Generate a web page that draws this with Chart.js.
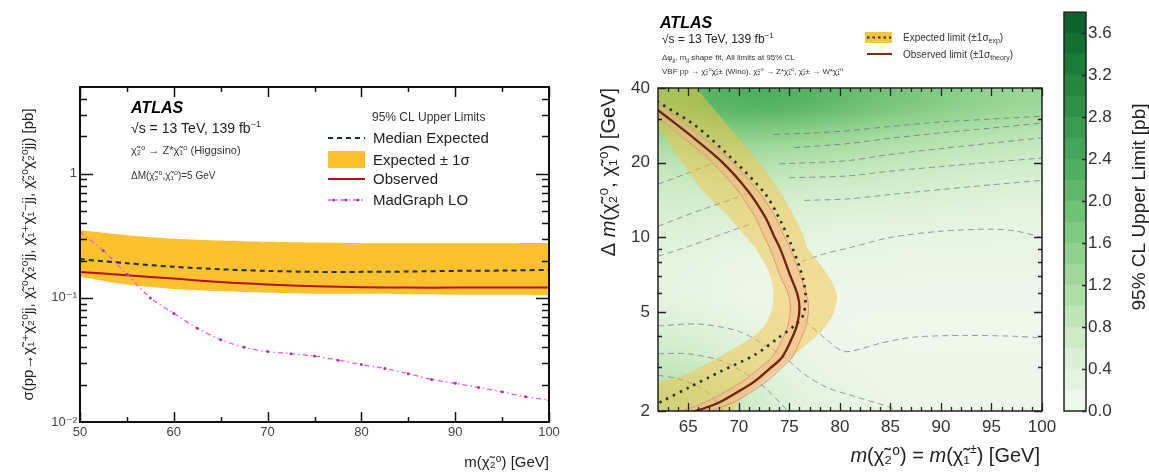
<!DOCTYPE html>
<html>
<head>
<meta charset="utf-8">
<title>VBF compressed electroweakino limits</title>
<script src="https://cdn.jsdelivr.net/npm/chart.js@4.4.1/dist/chart.umd.min.js"></script>
<style>
  html, body { margin: 0; padding: 0; background: #fff; }
  #wrap { position: relative; width: 1149px; height: 475px; overflow: hidden; background: #fff; }
  #wrap canvas { position: absolute; left: 0; top: 0; }
</style>
</head>
<body>
<div id="wrap">
  <canvas id="cbar" width="1149" height="475"></canvas>
  <canvas id="right" width="1149" height="475"></canvas>
  <canvas id="left" width="1149" height="475"></canvas>
</div>
<script>
const FONT = '"Liberation Sans", "DejaVu Sans", Arial, sans-serif';

// ---------- Left panel: Higgsino cross-section limit vs m(chi2) ----------
const leftMass       = [50, 55, 60, 65, 70, 75, 80, 85, 90, 95, 100];
const leftExpLow     = [0.148, 0.128, 0.118, 0.113, 0.110, 0.108, 0.108, 0.107, 0.106, 0.106, 0.105];
const leftExpHigh    = [0.350, 0.320, 0.300, 0.290, 0.283, 0.279, 0.276, 0.275, 0.275, 0.276, 0.277];
const leftExpMedian  = [0.205, 0.190, 0.178, 0.170, 0.165, 0.162, 0.162, 0.163, 0.165, 0.166, 0.168];
const leftObserved   = [0.162, 0.152, 0.143, 0.134, 0.128, 0.124, 0.122, 0.121, 0.121, 0.121, 0.121];
const madgraphMass   = [50, 52.5, 55, 57.5, 60, 62.5, 65, 67.5, 70, 72.5, 75, 77.5, 80, 82.5, 85, 87.5, 90, 92.5, 95, 97.5, 100];
const madgraphXsec   = [0.34, 0.24, 0.155, 0.10, 0.075, 0.057, 0.046, 0.040, 0.037, 0.0355, 0.034, 0.0315, 0.029, 0.027, 0.0245, 0.022, 0.0205, 0.019, 0.0175, 0.016, 0.015];
const leftXTicks      = [50, 60, 70, 80, 90, 100];
const leftYTicks      = [0.01, 0.1, 1];
const leftYTickLabels = ['10⁻²', '10⁻¹', '1'];

// ---------- Right panel: upper limit map in (m, Δm) ----------
const heatMass = [63.9, 67.7, 71.5, 75.3, 79.1, 82.9, 86.7, 90.5, 94.3, 98.1];
const heatDm   = [34.4, 25.5, 18.9, 14.0, 10.4, 7.70, 5.71, 4.23, 3.13, 2.32];
const heatLimit = [
  [2.00, 2.20, 2.30, 2.25, 2.10, 1.90, 1.75, 1.60, 1.45, 1.35],
  [1.30, 1.50, 1.50, 1.45, 1.35, 1.25, 1.15, 1.05, 0.98, 0.92],
  [0.85, 0.95, 0.95, 0.90, 0.85, 0.80, 0.74, 0.68, 0.63, 0.60],
  [0.60, 0.60, 0.58, 0.55, 0.52, 0.50, 0.47, 0.44, 0.41, 0.39],
  [0.45, 0.38, 0.33, 0.33, 0.32, 0.30, 0.29, 0.27, 0.26, 0.25],
  [0.32, 0.24, 0.19, 0.20, 0.20, 0.20, 0.19, 0.18, 0.18, 0.18],
  [0.30, 0.22, 0.15, 0.14, 0.13, 0.13, 0.13, 0.13, 0.13, 0.13],
  [0.50, 0.40, 0.28, 0.18, 0.14, 0.12, 0.12, 0.12, 0.12, 0.12],
  [0.75, 0.60, 0.45, 0.28, 0.19, 0.15, 0.14, 0.14, 0.14, 0.14],
  [1.05, 0.85, 0.62, 0.40, 0.28, 0.21, 0.17, 0.16, 0.16, 0.16]
];
// [mass, Δm] pairs
const expectedLimit = [[61.3,37.0],[62.0,35.2],[65.7,28.2],[69.3,20.8],[72.6,15.0],[74.2,11.5],[75.3,9.1],[76.0,7.6],[76.4,6.7],[76.6,5.8],[76.4,4.9],[75.6,4.45],[73.9,3.94],[71.6,3.37],[68.3,2.90],[65.0,2.48],[62.4,2.19],[61.5,2.10]];
const observedLimit = [[61.5,33.8],[62.2,32.1],[65.0,26.2],[68.3,20.2],[70.9,15.4],[72.6,12.1],[73.5,10.1],[74.1,9.0],[75.1,7.0],[75.8,5.9],[76.0,5.2],[75.8,4.5],[75.4,4.05],[74.3,3.3],[73.0,2.95],[71.6,2.64],[70.0,2.4],[68.3,2.19],[67.0,2.08],[65.7,2.0],[65.0,1.96]];
const observedTheoryHigh = [[62.5,33.8],[63.2,32.1],[66.0,26.2],[69.3,20.2],[71.9,15.4],[73.6,12.1],[74.5,10.1],[75.1,9.0],[76.1,7.0],[76.7,5.9],[76.9,5.2],[76.7,4.5],[76.3,4.05],[75.3,3.3],[74.1,2.95],[72.8,2.64],[71.3,2.4],[69.7,2.19],[68.4,2.08],[67.2,2.0],[66.5,1.96]];
const observedTheoryLow  = [[60.5,33.8],[61.2,32.1],[64.0,26.2],[67.3,20.2],[69.9,15.4],[71.6,12.1],[72.5,10.1],[73.1,9.0],[74.1,7.0],[74.9,5.9],[75.1,5.2],[74.9,4.5],[74.5,4.05],[73.3,3.3],[71.9,2.95],[70.4,2.64],[68.7,2.4],[66.9,2.19],[65.6,2.08],[64.2,2.0],[63.5,1.96]];
const expBandOuter = [[65.8,40],[66.0,39],[67.8,32],[69.6,26.2],[71.8,20.5],[73.6,16.4],[75.2,12.8],[76.3,10.4],[76.8,9.1],[78.8,7.07],[79.7,5.87],[79.3,4.88],[78.2,4.2],[76.3,3.59],[74.3,3.06],[72.3,2.64],[70.3,2.25],[69.3,2.0]];
const expBandInner = [[62,2.0],[62,2.55],[64.7,2.79],[67.3,3.18],[69.6,3.59],[71.6,4.05],[72.6,4.45],[73.3,5.2],[73.4,6.27],[72.8,7.55],[71.6,9.1],[70.5,10.3],[68.7,12.5],[66.7,15],[64.4,20],[62,28.7],[62,40]];
const limitContours = [
  [[73.5,26.0],[77,26.3],[80.8,26.9],[85,28.0],[90,29.2],[95,30.0],[100,30.8]],
  [[75.5,23.0],[80.8,23.9],[85,25.1],[90,26.4],[95,27.6],[100,28.9]],
  [[74.0,19.8],[77,20.0],[80.8,20.4],[85,21.6],[90,22.8],[95,24.0],[100,25.2]],
  [[75.0,17.4],[80.8,17.7],[85,18.5],[90,19.3],[95,20.1],[100,20.9]],
  [[76.5,14.1],[80.8,14.3],[85,14.9],[90,15.6],[95,16.3],[100,17.0]],
  [[76.2,8.0],[78.5,8.6],[81,9.1],[85,10.0],[90,10.6],[95,10.8],[97.5,10.6],[100,10.0]],
  [[76.0,5.0],[76.6,4.6],[78.5,3.94],[80.3,3.48],[82,3.55],[84.1,3.76],[87.4,3.97],[92.4,4.03],[97.3,4.0],[100,3.94]],
  [[62,4.40],[66,4.48],[69.9,4.2],[72.6,3.69],[74.6,3.27],[76.6,2.79],[78.8,2.48],[81,2.32],[84.8,2.08],[85.8,2.0]],
  [[62,3.40],[65,3.40],[68.3,3.18],[70.9,2.79],[72.6,2.48],[74.3,2.11],[74.9,2.0]],
  [[62,2.79],[64.4,2.67],[66.7,2.41],[68.3,2.06],[68.7,2.0]],
  [[62,11.1],[66,12.8],[70.9,15.0]],
  [[62,8.4],[65,9.2],[68,10.2],[71.3,11.4]],
  [[62,16.4],[65,18.2],[67.5,20.0]]
];
const rightXTicks = [65, 70, 75, 80, 85, 90, 95, 100];
const rightYTicks = [2, 5, 10, 20, 40];
const colourbarTicks  = [0, 0.4, 0.8, 1.2, 1.6, 2.0, 2.4, 2.8, 3.2, 3.6];
const colourbarLevels = [0, 0.2, 0.4, 0.6, 0.8, 1.0, 1.2, 1.4, 1.6, 1.8, 2.0, 2.2, 2.4, 2.6, 2.8, 3.0, 3.2, 3.4, 3.6];

// ---------- colour map ----------
const limitPalette = [
  [0.0, '#f4faf2'], [0.4, '#e0f2db'], [0.8, '#c6e8bf'], [1.2, '#a7dca1'],
  [1.6, '#87cd86'], [2.0, '#67bd6e'], [2.4, '#4aab5c'], [2.8, '#33974b'],
  [3.2, '#1f803b'], [3.6, '#0f6a2f'], [3.8, '#0a5d29']
];
function hexRgb(h) { return [1, 3, 5].map(i => parseInt(h.slice(i, i + 2), 16)); }
function limitColour(v) {
  const p = limitPalette;
  if (v <= p[0][0]) return hexRgb(p[0][1]);
  for (let i = 1; i < p.length; i++) {
    if (v <= p[i][0]) {
      const t = (v - p[i - 1][0]) / (p[i][0] - p[i - 1][0]);
      const a = hexRgb(p[i - 1][1]), b = hexRgb(p[i][1]);
      return a.map((c, k) => Math.round(c + (b[k] - c) * t));
    }
  }
  return hexRgb(p[p.length - 1][1]);
}
const rgbStr = c => `rgb(${c[0]},${c[1]},${c[2]})`;

// ---------- helpers ----------
const xy = (xs, ys) => xs.map((x, i) => ({x, y: ys[i]}));
const pts = arr => arr.map(([x, y]) => ({x, y}));

function fontStr(r, base) {
  return `${r.style || 'normal'} ${r.weight || 'normal'} ${r.size || base}px ${FONT}`;
}
function richText(ctx, runs, x, y, opt = {}) {
  const size = opt.size || 12;
  runs = runs.map(r => typeof r === 'string' ? {t: r} : r);
  ctx.save();
  ctx.translate(x, y);
  if (opt.rotate) ctx.rotate(opt.rotate);
  ctx.textBaseline = 'alphabetic';
  ctx.textAlign = 'left';
  let w = 0;
  runs.forEach(r => { ctx.font = fontStr(r, size); w += ctx.measureText(r.t).width; });
  let cx = opt.align === 'right' ? -w : opt.align === 'center' ? -w / 2 : 0;
  runs.forEach(r => {
    ctx.font = fontStr(r, size);
    ctx.fillStyle = r.color || opt.color || '#111';
    ctx.fillText(r.t, cx, r.dy || 0);
    cx += ctx.measureText(r.t).width;
  });
  ctx.restore();
}

// Frame plus inward-pointing ticks on all four sides
function insideTicks(o) {
  return {
    id: 'insideTicks',
    afterDatasetsDraw(chart) {
      const {ctx, chartArea: a, scales: {x, y}} = chart;
      ctx.save();
      ctx.strokeStyle = o.color;
      ctx.lineWidth = o.width;
      ctx.beginPath();
      const vert = (vals, len) => vals.forEach(v => {
        const px = Math.round(x.getPixelForValue(v)) + 0.5;
        ctx.moveTo(px, a.bottom); ctx.lineTo(px, a.bottom - len);
        ctx.moveTo(px, a.top); ctx.lineTo(px, a.top + len);
      });
      const horiz = (vals, len) => vals.forEach(v => {
        const py = Math.round(y.getPixelForValue(v)) + 0.5;
        ctx.moveTo(a.left, py); ctx.lineTo(a.left + len, py);
        ctx.moveTo(a.right, py); ctx.lineTo(a.right - len, py);
      });
      vert(o.xMajor, o.xMajorLen); vert(o.xMinor, o.xMinorLen);
      horiz(o.yMajor, o.yMajorLen); horiz(o.yMinor, o.yMinorLen);
      ctx.stroke();
      ctx.lineWidth = o.frameWidth;
      ctx.strokeRect(a.left, a.top, a.right - a.left, a.bottom - a.top);
      ctx.restore();
    }
  };
}

Chart.defaults.font.family = FONT;
Chart.defaults.color = '#333';

// ================= Left chart =================
const leftXMinor = [55, 65, 75, 85, 95];
const leftYMinor = [];
[0.01, 0.1, 1].forEach(d => { for (let k = 2; k <= 9; k++) if (k * d < 5) leftYMinor.push(k * d); });

const leftAnnotations = {
  id: 'leftAnnotations',
  afterDraw(chart) {
    const ctx = chart.ctx;
    richText(ctx, [{t: 'ATLAS', weight: 'bold', style: 'italic'}], 131, 113, {size: 16, color: '#000'});
    richText(ctx, ['√s = 13 TeV, 139 fb', {t: '−1', size: 9, dy: -6}], 131, 133, {size: 14, color: '#222'});
    richText(ctx, ['χ̃₂⁰ → Z*χ̃₁⁰ (Higgsino)'], 131, 154, {size: 11, color: '#333'});
    richText(ctx, ['ΔM(χ̃₂⁰,χ̃₁⁰)=5 GeV'], 131, 179, {size: 10, color: '#333'});

    // legend
    richText(ctx, ['95% CL Upper Limits'], 372, 121, {size: 12, color: '#333'});
    const x0 = 328, x1 = 365, tx = 373;
    const rows = [138, 160, 179, 200];
    ctx.save();
    ctx.lineWidth = 2; ctx.strokeStyle = '#1d2b4c'; ctx.setLineDash([5, 4]);
    ctx.beginPath(); ctx.moveTo(x0, rows[0]); ctx.lineTo(x1, rows[0]); ctx.stroke();
    ctx.setLineDash([]);
    ctx.fillStyle = '#fbc12e'; ctx.fillRect(x0, rows[1] - 9, x1 - x0, 17);
    ctx.strokeStyle = '#b3121b'; ctx.beginPath(); ctx.moveTo(x0, rows[2]); ctx.lineTo(x1, rows[2]); ctx.stroke();
    ctx.lineWidth = 1.3; ctx.strokeStyle = '#ee5ce6'; ctx.setLineDash([5, 3, 1.5, 3]);
    ctx.beginPath(); ctx.moveTo(x0, rows[3]); ctx.lineTo(x1, rows[3]); ctx.stroke();
    ctx.setLineDash([]); ctx.fillStyle = '#a03aa8';
    [334, 346, 358].forEach(px => { ctx.beginPath(); ctx.arc(px, rows[3], 1.5, 0, 2 * Math.PI); ctx.fill(); });
    ctx.restore();
    richText(ctx, ['Median Expected'], tx, rows[0] + 5, {size: 15, color: '#222'});
    richText(ctx, ['Expected ± 1σ'], tx, rows[1] + 5, {size: 15, color: '#222'});
    richText(ctx, ['Observed'], tx, rows[2] + 5, {size: 15, color: '#222'});
    richText(ctx, ['MadGraph LO'], tx, rows[3] + 5, {size: 15, color: '#222'});
  }
};

new Chart(document.getElementById('left'), {
  type: 'scatter',
  data: {
    datasets: [
      {label: 'Expected ± 1σ (low)', data: xy(leftMass, leftExpLow), showLine: true, borderWidth: 0,
       pointRadius: 0, fill: false, tension: 0.3, order: 6},
      {label: 'Expected ± 1σ', data: xy(leftMass, leftExpHigh), showLine: true, borderWidth: 0,
       pointRadius: 0, fill: '-1', backgroundColor: '#fbc12e', tension: 0.3, order: 5},
      {label: 'Median Expected', data: xy(leftMass, leftExpMedian), showLine: true, borderColor: '#1d2b4c',
       borderWidth: 2, borderDash: [5, 4], pointRadius: 0, tension: 0.3, order: 3},
      {label: 'Observed', data: xy(leftMass, leftObserved), showLine: true, borderColor: '#b3121b',
       borderWidth: 2, pointRadius: 0, tension: 0.3, order: 2},
      {label: 'MadGraph LO', data: xy(madgraphMass, madgraphXsec), showLine: true, borderColor: '#ee5ce6',
       borderWidth: 1.3, borderDash: [5, 3, 1.5, 3], pointRadius: 1.5, pointBorderWidth: 0,
       pointBackgroundColor: '#a03aa8', tension: 0.3, order: 1}
    ]
  },
  options: {
    responsive: false, animation: false, events: [],
    layout: {padding: {left: 0, right: 600, top: 87, bottom: 0}},
    plugins: {legend: {display: false}, tooltip: {enabled: false}},
    scales: {
      x: {
        type: 'linear', min: 50, max: 100,
        grid: {display: false, drawTicks: false}, border: {display: false},
        afterBuildTicks: s => { s.ticks = leftXTicks.map(v => ({value: v})); },
        afterFit: s => { s.height = 53; },
        ticks: {font: {size: 13}, color: '#444', padding: 3, maxRotation: 0, autoSkip: false},
        title: {display: true, text: 'm(χ̃₂⁰) [GeV]', align: 'end', color: '#222',
                font: {size: 15}, padding: {top: 0, bottom: 3}}
      },
      y: {
        type: 'logarithmic', min: 0.01, max: 5,
        grid: {display: false, drawTicks: false}, border: {display: false},
        afterBuildTicks: s => { s.ticks = leftYTicks.map(v => ({value: v})); },
        afterFit: s => { s.width = 80; },
        ticks: {font: {size: 13}, color: '#444', padding: 3, autoSkip: false,
                callback: v => leftYTickLabels[leftYTicks.indexOf(v)] ?? ''},
        title: {display: true, text: 'σ(pp→χ̃₁⁺χ̃₂⁰jj, χ̃₁⁰χ̃₂⁰jj, χ̃₁⁺χ̃₁⁻jj, χ̃₂⁰χ̃₂⁰jj) [pb]',
                color: '#222', font: {size: 15}, padding: {top: 20, bottom: 0}}
      }
    }
  },
  plugins: [insideTicks({
    color: '#111', width: 1.5, frameWidth: 2,
    xMajor: leftXTicks, xMinor: leftXMinor, xMajorLen: 10, xMinorLen: 5,
    yMajor: [0.1, 1], yMinor: leftYMinor, yMajorLen: 13, yMinorLen: 7
  }), leftAnnotations]
});

// ================= Right chart =================
const rightXMinor = [];
for (let m = 63; m < 100; m++) if (m % 5 !== 0) rightXMinor.push(m);
const rightYMinor = [3, 4, 6, 7, 8, 9, 30];

const heatmapLayer = {
  id: 'heatmapLayer',
  beforeDatasetsDraw(chart) {
    const {ctx, chartArea: a, scales: {x, y}} = chart;
    const nc = heatMass.length, nr = heatDm.length;
    const off = document.createElement('canvas');
    off.width = nc; off.height = nr;
    const octx = off.getContext('2d');
    const img = octx.createImageData(nc, nr);
    heatLimit.forEach((row, r) => row.forEach((v, c) => {
      const col = limitColour(v), k = 4 * (r * nc + c);
      img.data[k] = col[0]; img.data[k + 1] = col[1]; img.data[k + 2] = col[2]; img.data[k + 3] = 255;
    }));
    octx.putImageData(img, 0, 0);
    const x0 = x.getPixelForValue(heatMass[0]), x1 = x.getPixelForValue(heatMass[nc - 1]);
    const y0 = y.getPixelForValue(heatDm[0]), y1 = y.getPixelForValue(heatDm[nr - 1]);
    const sx = (x1 - x0) / (nc - 1), sy = (y1 - y0) / (nr - 1);
    ctx.save();
    ctx.beginPath(); ctx.rect(a.left, a.top, a.right - a.left, a.bottom - a.top); ctx.clip();
    ctx.imageSmoothingEnabled = true;
    ctx.imageSmoothingQuality = 'high';
    ctx.drawImage(off, x0 - sx / 2, y0 - sy / 2, sx * nc, sy * nr);
    ctx.restore();
  }
};

const rightAnnotations = {
  id: 'rightAnnotations',
  afterDraw(chart) {
    const ctx = chart.ctx;
    richText(ctx, [{t: 'ATLAS', weight: 'bold', style: 'italic'}], 660, 28, {size: 16, color: '#000'});
    richText(ctx, ['√s = 13 TeV, 139 fb', {t: '−1', size: 8, dy: -5}], 662, 43, {size: 12, color: '#222'});
    richText(ctx, ['Δφ', {t: 'jj', size: 6, dy: 2}, ', m', {t: 'jj', size: 6, dy: 2},
                   ' shape fit, All limits at 95% CL'], 662, 60, {size: 8, color: '#333'});
    richText(ctx, ['VBF pp → χ̃₂⁰χ̃₁± (Wino), χ̃₂⁰ → Z*χ̃₁⁰, χ̃₁± → W*χ̃₁⁰'], 662, 74, {size: 8, color: '#333'});

    // legend
    ctx.save();
    ctx.fillStyle = '#f6c443'; ctx.fillRect(865, 32, 27, 11);
    ctx.strokeStyle = '#333'; ctx.lineWidth = 2; ctx.setLineDash([2.5, 3]);
    ctx.beginPath(); ctx.moveTo(867, 37.5); ctx.lineTo(891, 37.5); ctx.stroke();
    ctx.setLineDash([]); ctx.strokeStyle = '#7a2a15'; ctx.lineWidth = 2;
    ctx.beginPath(); ctx.moveTo(867, 54); ctx.lineTo(892, 54); ctx.stroke();
    ctx.restore();
    richText(ctx, ['Expected limit (±1σ', {t: 'exp', size: 7, dy: 2}, ')'], 903, 41, {size: 10, color: '#333'});
    richText(ctx, ['Observed limit (±1σ', {t: 'theory', size: 7, dy: 2}, ')'], 903, 58, {size: 10, color: '#333'});

    // axis titles
    richText(ctx, [{t: 'm', style: 'italic'}, '(χ̃₂⁰) = ', {t: 'm', style: 'italic'}, '(χ̃₁',
                   {t: '±', size: 12, dy: -9}, ') [GeV]'], 1040, 462, {size: 20, align: 'right', color: '#222'});
    richText(ctx, ['Δ ', {t: 'm', style: 'italic'}, '(χ̃₂⁰, χ̃₁⁰) [GeV]'], 615, 88,
             {size: 20, align: 'right', rotate: -Math.PI / 2, color: '#222'});
  }
};

const contourSets = limitContours.map((c, i) => ({
  label: 'contour ' + (i + 1), data: pts(c), showLine: true, borderColor: 'rgba(85,95,105,0.6)',
  borderWidth: 1, borderDash: [6, 4], pointRadius: 0, tension: 0.3, order: 20
}));

new Chart(document.getElementById('right'), {
  type: 'scatter',
  data: {
    datasets: [
      ...contourSets,
      {label: 'Expected limit ±1σ', data: pts(expBandOuter.concat(expBandInner)), showLine: true,
       borderWidth: 0, pointRadius: 0, fill: 'shape', backgroundColor: 'rgba(243,196,70,0.5)',
       tension: 0.25, order: 10},
      {label: 'Observed ±1σ theory', data: pts(observedTheoryHigh.concat(observedTheoryLow.slice().reverse())),
       showLine: true, borderWidth: 0, pointRadius: 0, fill: 'shape',
       backgroundColor: 'rgba(246,170,140,0.35)', tension: 0.3, order: 9},
      {label: 'Observed +1σ theory', data: pts(observedTheoryHigh), showLine: true, borderColor: '#e4937c',
       borderWidth: 1, pointRadius: 0, tension: 0.3, order: 8},
      {label: 'Observed −1σ theory', data: pts(observedTheoryLow), showLine: true, borderColor: '#e4937c',
       borderWidth: 1, pointRadius: 0, tension: 0.3, order: 8},
      {label: 'Expected limit', data: pts(expectedLimit), showLine: true, borderColor: '#2a2a2a',
       borderWidth: 2.6, borderDash: [2.4, 5.2], pointRadius: 0, tension: 0.3, order: 6},
      {label: 'Observed limit', data: pts(observedLimit), showLine: true, borderColor: '#6e2312',
       borderWidth: 2.3, pointRadius: 0, tension: 0.3, order: 5}
    ]
  },
  options: {
    responsive: false, animation: false, events: [],
    layout: {padding: {left: 565, right: 107, top: 88, bottom: 0}},
    plugins: {legend: {display: false}, tooltip: {enabled: false}},
    scales: {
      x: {
        type: 'linear', min: 62, max: 100,
        grid: {display: false, drawTicks: false}, border: {display: false},
        afterBuildTicks: s => { s.ticks = rightXTicks.map(v => ({value: v})); },
        afterFit: s => { s.height = 64; },
        ticks: {font: {size: 17}, color: '#333', padding: 6, maxRotation: 0, autoSkip: false}
      },
      y: {
        type: 'logarithmic', min: 2, max: 40,
        grid: {display: false, drawTicks: false}, border: {display: false},
        afterBuildTicks: s => { s.ticks = rightYTicks.map(v => ({value: v})); },
        afterFit: s => { s.width = 93; },
        ticks: {font: {size: 17}, color: '#333', padding: 8, autoSkip: false, callback: v => String(v)}
      }
    }
  },
  plugins: [heatmapLayer, insideTicks({
    color: '#222', width: 1.3, frameWidth: 1.5,
    xMajor: rightXTicks, xMinor: rightXMinor, xMajorLen: 8, xMinorLen: 4,
    yMajor: rightYTicks, yMinor: rightYMinor, yMajorLen: 8, yMinorLen: 4
  }), rightAnnotations]
});

// ================= Colour bar =================
const colourbarDecor = {
  id: 'colourbarDecor',
  afterDraw(chart) {
    const {ctx, chartArea: a, scales: {y}} = chart;
    ctx.save();
    ctx.strokeStyle = '#222'; ctx.lineWidth = 1.3;
    ctx.beginPath();
    colourbarTicks.forEach(v => {
      const py = Math.round(y.getPixelForValue(v)) + 0.5;
      ctx.moveTo(a.right, py); ctx.lineTo(a.right - 4, py);
    });
    ctx.stroke();
    ctx.lineWidth = 1.5;
    ctx.strokeRect(a.left, a.top, a.right - a.left, a.bottom - a.top);
    ctx.restore();
    richText(ctx, ['95% CL Upper Limit [pb]'], 1145, 207, {size: 19, align: 'center', rotate: -Math.PI / 2, color: '#222'});
  }
};

new Chart(document.getElementById('cbar'), {
  type: 'bar',
  data: {
    labels: ['limit'],
    datasets: colourbarLevels.map(l => ({
      label: 'level ' + l, data: [0.2], backgroundColor: rgbStr(limitColour(l + 0.1)),
      borderWidth: 0, barPercentage: 1, categoryPercentage: 1, stack: 'cb'
    }))
  },
  options: {
    responsive: false, animation: false, events: [],
    layout: {padding: {left: 1064, right: 0, top: 10, bottom: 64}},
    plugins: {legend: {display: false}, tooltip: {enabled: false}},
    scales: {
      x: {display: false, stacked: true},
      y: {
        position: 'right', stacked: true, min: 0, max: 3.8,
        grid: {display: false, drawTicks: false}, border: {display: false},
        afterBuildTicks: s => { s.ticks = colourbarTicks.map(v => ({value: v})); },
        afterFit: s => { s.width = 63; },
        ticks: {font: {size: 17}, color: '#333', padding: 2, autoSkip: false, callback: v => Number(v).toFixed(1)}
      }
    }
  },
  plugins: [colourbarDecor]
});
</script>
</body>
</html>
